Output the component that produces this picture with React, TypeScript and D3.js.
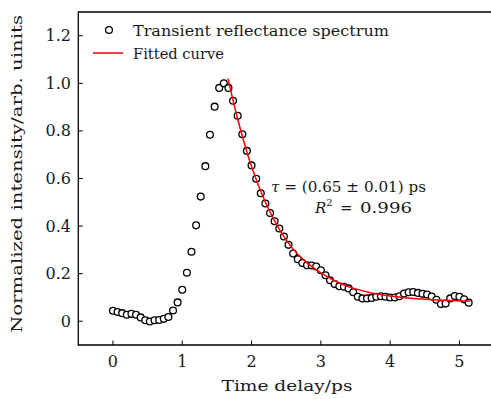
import React from "react";
import * as d3 from "d3";

const timeDelay = [
  0, 0.067, 0.133, 0.2, 0.267, 0.333, 0.4, 0.467, 0.533, 0.6,
  0.667, 0.733, 0.8, 0.867, 0.933, 1.0, 1.067, 1.133, 1.2, 1.267,
  1.333, 1.4, 1.467, 1.533, 1.6, 1.667, 1.733, 1.8, 1.867, 1.933,
  2.0, 2.067, 2.133, 2.2, 2.267, 2.333, 2.4, 2.467, 2.533, 2.6,
  2.667, 2.733, 2.8, 2.867, 2.933, 3.0, 3.067, 3.133, 3.2, 3.267,
  3.333, 3.4, 3.467, 3.533, 3.6, 3.667, 3.733, 3.8, 3.867, 3.933,
  4.0, 4.067, 4.133, 4.2, 4.267, 4.333, 4.4, 4.467, 4.533, 4.6,
  4.667, 4.733, 4.8, 4.867, 4.933, 5.0, 5.067, 5.133,
];
const intensity = [
  0.044, 0.039, 0.034, 0.027, 0.031, 0.027, 0.016, 0.004, -0.001, 0.004,
  0.005, 0.01, 0.018, 0.045, 0.079, 0.132, 0.204, 0.292, 0.403, 0.524,
  0.652, 0.784, 0.902, 0.981, 1.0, 0.981, 0.927, 0.864, 0.786, 0.716,
  0.655, 0.599, 0.538, 0.495, 0.455, 0.42, 0.39, 0.356, 0.321, 0.285,
  0.261, 0.245, 0.235, 0.234, 0.23, 0.214, 0.193, 0.172, 0.156, 0.147,
  0.145, 0.138, 0.122, 0.103, 0.096, 0.096, 0.098, 0.103, 0.105, 0.103,
  0.1, 0.1, 0.105, 0.116, 0.122, 0.123, 0.119, 0.115, 0.112, 0.104,
  0.09, 0.072, 0.074, 0.096, 0.106, 0.103, 0.092, 0.078,
];

const fitTime = [1.66, 1.8, 2.0, 2.2, 2.4, 2.6, 2.8, 3.0, 3.25, 3.5, 3.75, 4.0, 4.5, 5.15];
const fitValue = [1.02, 0.85, 0.65, 0.5, 0.386, 0.303, 0.245, 0.203, 0.163, 0.136, 0.118, 0.106, 0.092, 0.084];

const xTicks = [0, 1, 2, 3, 4, 5];
const yTicks = [0, 0.2, 0.4, 0.6, 0.8, 1.0, 1.2];
const yTickLabels = ["0", "0.2", "0.4", "0.6", "0.8", "1.0", "1.2"];

const W = 491;
const H = 399;
const FONT = "'DejaVu Serif', 'Liberation Serif', serif";
const FS = 15.5;
const INK = "#1a1a1a";

export default function App() {
  const x = d3.scaleLinear().domain([-0.5, 5.5]).range([78.3, 494.1]);
  const y = d3.scaleLinear().domain([-0.1, 1.3]).range([345, 12]);

  const pts = timeDelay.map((t, i) => [t, intensity[i]] as [number, number]);
  const fit = fitTime.map((t, i) => [t, fitValue[i]] as [number, number]);
  const line = d3
    .line<[number, number]>()
    .x((d) => x(d[0]))
    .y((d) => y(d[1]))
    .curve(d3.curveMonotoneX);

  const left = x(-0.5);
  const right = x(5.5);
  const top = y(1.3);
  const bottom = y(-0.1);

  return (
    <svg
      width={W}
      height={H}
      style={{ position: "absolute", left: 0, top: 0, background: "#fff" }}
      fontFamily={FONT}
    >
      <rect x={0} y={0} width={W} height={H} fill="#fff" />
      {/* frame */}
      <path
        d={`M${right},${top}H${left}V${bottom}H${right}V${top}`}
        fill="none"
        stroke="#000"
        strokeWidth={1.3}
      />
      {/* x ticks */}
      {xTicks.map((t) => (
        <g key={"x" + t}>
          <line x1={x(t)} x2={x(t)} y1={bottom} y2={bottom - 4.5} stroke="#000" strokeWidth={1} />
          <text x={x(t)} y={367} textAnchor="middle" fontSize={16} fill={INK}>
            {t}
          </text>
        </g>
      ))}
      {/* y ticks */}
      {yTicks.map((t, i) => (
        <g key={"y" + t}>
          <line x1={left} x2={left + 4.5} y1={y(t)} y2={y(t)} stroke="#000" strokeWidth={1} />
          <text x={71} y={y(t) + 5.5} textAnchor="end" fontSize={16} fill={INK}>
            {yTickLabels[i]}
          </text>
        </g>
      ))}
      {/* axis titles */}
      <text
        x={221.5}
        y={391}
        fontSize={FS}
        fill={INK}
        textLength={131}
        lengthAdjust="spacingAndGlyphs"
      >
        Time delay/ps
      </text>
      <text
        transform={`translate(22,333) rotate(-90)`}
        fontSize={FS}
        fill={INK}
        textLength={318}
        lengthAdjust="spacingAndGlyphs"
      >
        Normalized intensity/arb. uinits
      </text>

      {/* data points */}
      {pts.map((d, i) => (
        <circle
          key={i}
          cx={x(d[0])}
          cy={y(d[1])}
          r={3.4}
          fill="#fff"
          stroke="#000"
          strokeWidth={1.3}
        />
      ))}
      {/* fitted curve */}
      <path d={line(fit) || ""} fill="none" stroke="#ff0000" strokeWidth={1.5} />

      {/* legend */}
      <circle cx={109} cy={30} r={3.4} fill="#fff" stroke="#000" strokeWidth={1.3} />
      <text
        x={133}
        y={36}
        fontSize={FS}
        fill={INK}
        textLength={256}
        lengthAdjust="spacingAndGlyphs"
      >
        Transient reflectance spectrum
      </text>
      <line x1={93} x2={123} y1={53} y2={53} stroke="#ff0000" strokeWidth={1.5} />
      <text
        x={133}
        y={59}
        fontSize={FS}
        fill={INK}
        textLength={91}
        lengthAdjust="spacingAndGlyphs"
      >
        Fitted curve
      </text>

      {/* annotation */}
      <text
        x={271}
        y={192}
        fontSize={15}
        fill={INK}
        textLength={155}
        lengthAdjust="spacingAndGlyphs"
      >
        <tspan fontStyle="italic">τ</tspan>
        <tspan> = (0.65 ± 0.01) ps</tspan>
      </text>
      <text x={315} y={213} fontSize={15} fill={INK}>
        <tspan fontStyle="italic">R</tspan>
        <tspan dy={-7} fontSize={10}>2</tspan>
        <tspan x={340} dy={7}>=</tspan>
        <tspan x={360} textLength={52} lengthAdjust="spacingAndGlyphs">0.996</tspan>
      </text>
    </svg>
  );
}
